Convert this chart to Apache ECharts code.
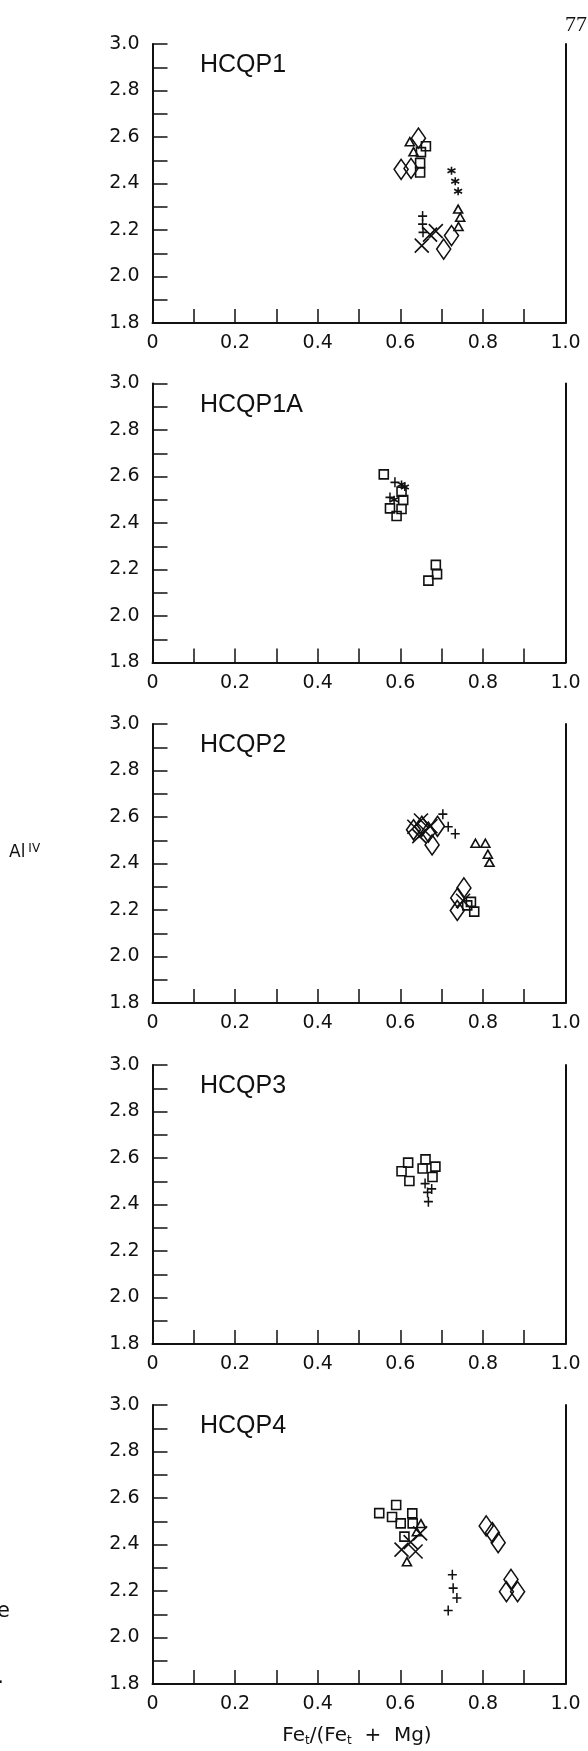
<!DOCTYPE html>
<html><head><meta charset="utf-8">
<script src="https://cdn.jsdelivr.net/npm/echarts@6/dist/echarts.min.js"></script>
<style>html,body{margin:0;padding:0;background:#fff}#c{width:588px;height:1751px}</style>
</head><body><div id="c"></div>
<script>
// ---------- DATA ----------
const panelNames = ['HCQP1', 'HCQP1A', 'HCQP2', 'HCQP3', 'HCQP4'];
const xTickLabels = ['0', '0.2', '0.4', '0.6', '0.8', '1.0'];
const yTickLabels = ['1.8', '2.0', '2.2', '2.4', '2.6', '2.8', '3.0'];
const xTitle = 'Fe/(Fe + Mg)';
const yTitle = 'Al IV';

// HCQP1
const p1Square   = [[0.662,2.56],[0.650,2.535],[0.648,2.488],[0.648,2.447]];
const p1Diamond  = [[0.644,2.595],[0.602,2.461],[0.626,2.465],[0.705,2.118],[0.724,2.176]];
const p1Triangle = [[0.623,2.58],[0.632,2.537],[0.740,2.29],[0.745,2.255],[0.741,2.215]];
const p1Plus     = [[0.654,2.26],[0.654,2.225],[0.655,2.19]];
const p1Cross    = [[0.652,2.133],[0.672,2.18],[0.686,2.195]];
const p1Star     = [[0.724,2.455],[0.733,2.41],[0.740,2.367]];

// HCQP1A
const p2Square   = [[0.560,2.609],[0.603,2.535],[0.607,2.499],[0.575,2.463],[0.603,2.46],[0.591,2.43],[0.686,2.22],[0.689,2.18],[0.668,2.152]];
const p2Plus     = [[0.587,2.575],[0.575,2.51]];
const p2Star     = [[0.603,2.566],[0.611,2.555],[0.585,2.50]];

// HCQP2
const p3Cross    = [[0.634,2.558],[0.650,2.585],[0.646,2.518],[0.673,2.56],[0.660,2.54],[0.752,2.24]];
const p3Diamond  = [[0.632,2.545],[0.652,2.56],[0.668,2.535],[0.677,2.48],[0.690,2.56],[0.754,2.295],[0.739,2.252],[0.738,2.198]];
const p3Plus     = [[0.703,2.612],[0.716,2.558],[0.733,2.528]];
const p3Triangle = [[0.782,2.487],[0.806,2.487],[0.812,2.44],[0.816,2.405]];
const p3Square   = [[0.771,2.235],[0.779,2.193],[0.762,2.22]];

// HCQP3
const p4Square   = [[0.603,2.543],[0.619,2.58],[0.622,2.501],[0.661,2.594],[0.654,2.555],[0.685,2.563],[0.678,2.518]];
const p4Plus     = [[0.660,2.49],[0.676,2.467],[0.666,2.452],[0.668,2.412]];

// HCQP4
const p5Square   = [[0.549,2.535],[0.590,2.570],[0.580,2.518],[0.601,2.491],[0.629,2.534],[0.630,2.491],[0.610,2.434]];
const p5Cross    = [[0.603,2.378],[0.637,2.370],[0.648,2.448],[0.625,2.41]];
const p5Triangle = [[0.616,2.326],[0.650,2.49],[0.640,2.455]];
const p5Plus     = [[0.726,2.27],[0.728,2.212],[0.737,2.17],[0.716,2.116]];
const p5Diamond  = [[0.808,2.48],[0.823,2.451],[0.837,2.408],[0.868,2.25],[0.857,2.197],[0.884,2.197]];

const panelSeries = [
  {square:p1Square, diamond:p1Diamond, triangle:p1Triangle, plus:p1Plus, cross:p1Cross, star:p1Star},
  {square:p2Square, plus:p2Plus, star:p2Star},
  {cross:p3Cross, diamond:p3Diamond, plus:p3Plus, triangle:p3Triangle, square:p3Square},
  {square:p4Square, plus:p4Plus},
  {square:p5Square, cross:p5Cross, triangle:p5Triangle, plus:p5Plus, diamond:p5Diamond}
];

// ---------- STYLE / LAYOUT ----------
const INK = '#111';
const FONT = '"DejaVu Sans", sans-serif';
const gridTops = [44, 383.5, 724, 1065, 1405];
const gridLeft = 152.5, gridWidth = 413, gridHeight = 279;
const symbolDefs = {
  square:   {symbol:'rect', size:9},
  diamond:  {symbol:'diamond', size:[14,20]},
  triangle: {symbol:'triangle', size:[9,8]},
  plus:     {symbol:'path://M5,0L5,10M0,5L10,5', size:[9,10]},
  cross:    {symbol:'path://M0,0L10,10M10,0L0,10', size:14},
  star:     {symbol:'path://M5,0L5,10M0,2.5L10,7.5M0,7.5L10,2.5', size:8}
};

const grids = [], xAxes = [], yAxes = [], series = [], graphics = [];
gridTops.forEach((top, i) => {
  grids.push({left:gridLeft, top:top, width:gridWidth, height:gridHeight, containLabel:false});
  xAxes.push({
    gridIndex:i, type:'value', min:0, max:1, interval:0.1,
    axisLine:{show:true, onZero:false, lineStyle:{color:INK, width:2}},
    axisTick:{show:true, inside:true, length:14, lineStyle:{color:INK, width:1.5}},
    splitLine:{show:false},
    axisLabel:{margin:11, fontSize:19, fontFamily:FONT, color:INK,
      formatter:v => { const k = Math.round(v*10); return k % 2 ? '' : xTickLabels[k/2]; }}
  });
  yAxes.push({
    gridIndex:i, type:'value', min:1.8, max:3.0, interval:0.1,
    axisLine:{show:true, onZero:false, lineStyle:{color:INK, width:2}},
    axisTick:{show:true, inside:true, length:15, lineStyle:{color:INK, width:1.5}},
    splitLine:{show:false},
    axisLabel:{margin:13, fontSize:19, fontFamily:FONT, color:INK,
      formatter:v => { const k = Math.round(v*10) - 18; return k % 2 ? '' : yTickLabels[k/2]; }}
  });
  yAxes.push({
    gridIndex:i, type:'value', min:1.8, max:3.0, position:'right',
    axisLine:{show:true, onZero:false, lineStyle:{color:INK, width:2}},
    axisTick:{show:false}, axisLabel:{show:false}, splitLine:{show:false}
  });
  const ps = panelSeries[i];
  Object.keys(ps).forEach(key => {
    const d = symbolDefs[key];
    series.push({
      type:'scatter', xAxisIndex:i, yAxisIndex:2*i, data:ps[key],
      symbol:d.symbol, symbolSize:d.size, silent:true,
      itemStyle:{color:'rgba(0,0,0,0)', borderColor:INK, borderWidth:1.6, opacity:1}
    });
  });
  graphics.push({type:'text', x:200, y:top+21.5, silent:true,
    style:{text:panelNames[i], fontSize:25, fontFamily:'"Liberation Sans", Arial, sans-serif',
      fill:INK, align:'left', verticalAlign:'middle'}});
});

// axis titles
graphics.push({type:'text', x:357, y:1736, silent:true,
  style:{text:'Fe{sub|t}/(Fe{sub|t}  +  Mg)', fontSize:20, fontFamily:FONT, fill:INK,
    align:'center', verticalAlign:'middle',
    rich:{sub:{fontSize:12, fontFamily:FONT, fill:INK, verticalAlign:'bottom', padding:[10,0,0,0]}}}});
graphics.push({type:'text', x:9, y:853, silent:true,
  style:{text:'Al{sup|IV}', fontSize:17, fontFamily:FONT, fill:INK,
    align:'left', verticalAlign:'middle',
    rich:{sup:{fontSize:12, fontFamily:FONT, fill:INK, verticalAlign:'top', padding:[0,0,8,3]}}}});
// page number and margin remnants
graphics.push({type:'text', x:565, y:25, silent:true,
  style:{text:'77', fontSize:22, fontFamily:'"Liberation Serif", serif', fill:INK, align:'left', verticalAlign:'middle'}});
graphics.push({type:'text', x:10, y:1612, silent:true,
  style:{text:'e', fontSize:21, fontFamily:FONT, fill:INK, align:'right', verticalAlign:'middle'}});
graphics.push({type:'text', x:4, y:1678, silent:true,
  style:{text:'.', fontSize:21, fontFamily:FONT, fill:INK, align:'right', verticalAlign:'middle'}});

const chart = echarts.init(document.getElementById('c'), null, {renderer:'canvas'});
chart.setOption({
  animation:false, backgroundColor:'#fff',
  grid:grids, xAxis:xAxes, yAxis:yAxes, series:series, graphic:graphics
});
</script></body></html>
